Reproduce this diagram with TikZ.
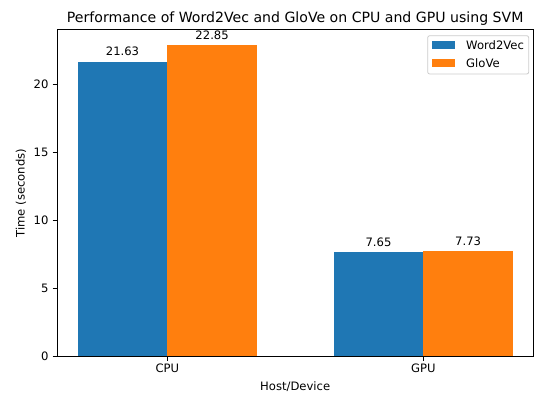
\documentclass[tikz,border=0pt]{standalone}
\usepackage{fontspec}
\setmainfont{DejaVu Sans}
\definecolor{mplblue}{HTML}{1F77B4}
\definecolor{mplorange}{HTML}{FF7F0E}
\definecolor{legframe}{HTML}{CCCCCC}
\newcommand{\yv}[1]{356.3-13.615*#1}
\begin{document}
\begin{tikzpicture}[x=1pt,y=-1pt,
  small/.style={font=\fontsize{11.6}{14}\selectfont, inner sep=0pt},
  barw/.style={fill=mplblue, draw=none},
  baro/.style={fill=mplorange, draw=none},
  tickline/.style={line width=0.8pt, black},
  frame/.style={line width=0.8pt, black}]
\useasboundingbox (0,0) rectangle (536,394);
% bars
\fill[barw] (77.7,356.3) rectangle (167.3,{\yv{21.63}});
\fill[baro] (167.3,356.3) rectangle (256.9,{\yv{22.85}});
\fill[barw] (333.7,356.3) rectangle (423.3,{\yv{7.65}});
\fill[baro] (423.3,356.3) rectangle (512.9,{\yv{7.73}});
% value labels
\node[small, anchor=base] (v1) at (122.5,{\yv{21.63}-6}) {21.63};
\node[small, anchor=base] (v2) at (212.1,{\yv{22.85}-6}) {22.85};
\node[small, anchor=base] (v3) at (378.5,{\yv{7.65}-6}) {7.65};
\node[small, anchor=base] (v4) at (468.1,{\yv{7.73}-6}) {7.73};
% frame
\draw[frame] (57,29.5) rectangle (533.3,356.3);
% y ticks
\foreach \v in {0,5,10,15,20}{
  \draw[tickline] (52.5,{\yv{\v}}) -- (57,{\yv{\v}});
  \node[small, anchor=east] (yt\v) at (48.7,{\yv{\v}}) {\v};
}
% x ticks
\draw[tickline] (167.3,356.3) -- (167.3,360.8);
\draw[tickline] (423.3,356.3) -- (423.3,360.8);
\node[small, anchor=base] (xcpu) at (167.3,372.5) {CPU};
\node[small, anchor=base] (xgpu) at (423.3,372.5) {GPU};
% axis labels
\node[small, anchor=base] (xlab) at (295.2,390.5) {Host/Device};
\node[small, anchor=base, rotate=90] (ylab) at (24.5,193) {Time (seconds)};
% title
\node[font=\fontsize{14.1}{17}\selectfont, inner sep=0pt, anchor=base] (title) at (295.2,22.7) {Performance of Word2Vec and GloVe on CPU and GPU using SVM};
% legend
\draw[legframe, fill=white, fill opacity=0.8, rounded corners=2pt, line width=0.8pt] (427.7,35.7) rectangle (528.7,74);
\fill[barw] (431.7,41.3) rectangle (455.3,49.3);
\fill[baro] (431.7,59.3) rectangle (455.3,67.3);
\node[small, anchor=west] (l1) at (466,45.3) {Word2Vec};
\node[small, anchor=west] (l2) at (466,63.3) {GloVe};
\end{tikzpicture}
\end{document}
